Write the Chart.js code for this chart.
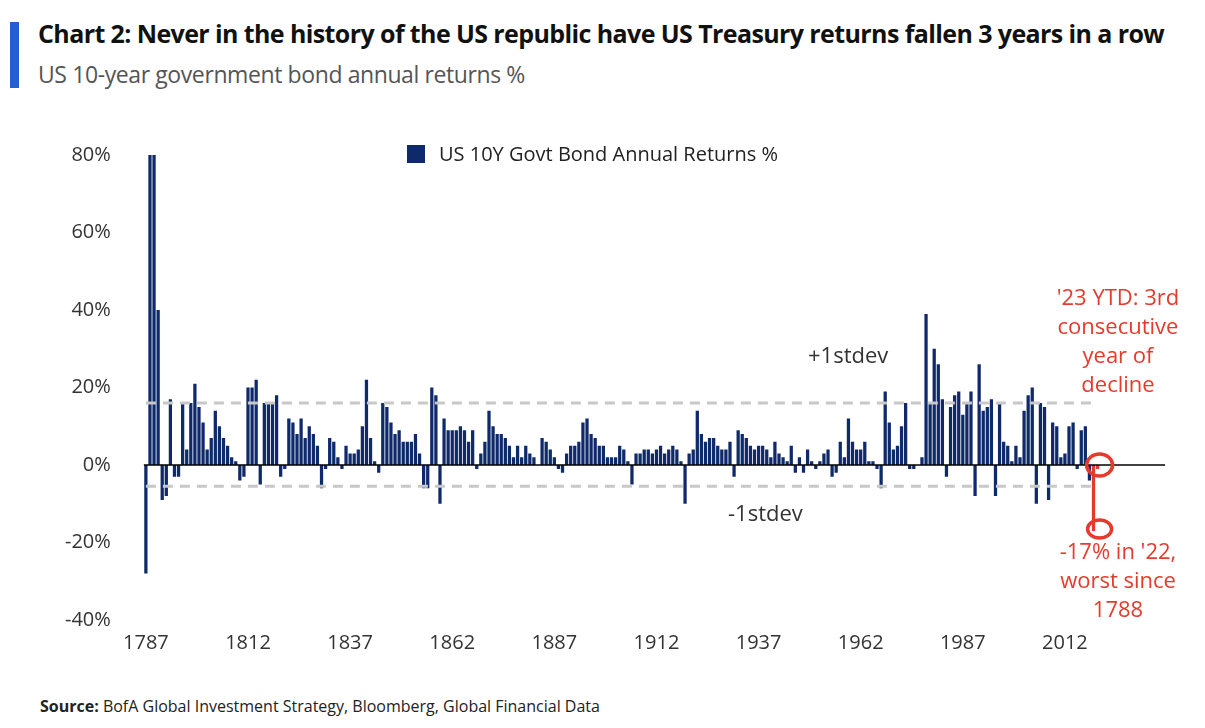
<!DOCTYPE html>
<html>
<head>
<meta charset="utf-8">
<script src="https://cdn.jsdelivr.net/npm/chart.js@4"></script>
<style>
  body { margin:0; width:1205px; height:728px; background:#fff; font-family:"Open Sans", sans-serif; position:relative; overflow:hidden; }
  .bar { position:absolute; left:10px; top:22px; width:9px; height:66px; background:#2a5bd7; }
  h1 { position:absolute; left:38px; top:16px; margin:0; font-size:25px; font-weight:bold; color:#111; letter-spacing:-0.6px; white-space:nowrap; }
  .sub { position:absolute; left:38px; top:58px; font-size:23px; color:#555; letter-spacing:-0.4px; }
  .src { position:absolute; left:40px; top:695px; font-size:16px; color:#222; }
  .note { position:absolute; font-size:22px; text-align:center; line-height:29px; }
  .leg { position:absolute; left:407px; top:140px; font-size:20px; color:#222; }
  .leg span { display:inline-block; width:18px; height:18px; background:#0f2a6b; margin-right:14px; vertical-align:-2px; }
  #wrap { position:absolute; left:40px; top:118px; }
</style>
</head>
<body>
<div class="bar"></div>
<h1>Chart 2: Never in the history of the US republic have US Treasury returns fallen 3 years in a row</h1>
<div class="sub">US 10-year government bond annual returns %</div>
<div id="wrap"><canvas id="graf" width="1140" height="540"></canvas></div>
<div class="leg"><span></span>US 10Y Govt Bond Annual Returns %</div>
<div class="note" style="left:808px;top:340px;color:#333;">+1stdev</div>
<div class="note" style="left:728px;top:498px;color:#333;">-1stdev</div>
<div class="note" style="left:1018px;top:282px;width:200px;color:#e53a2c;">'23 YTD: 3rd<br>consecutive<br>year of<br>decline</div>
<div class="note" style="left:1018px;top:536px;width:200px;color:#e53a2c;">-17% in '22,<br>worst since<br>1788</div>
<div class="src"><b>Source:</b> BofA Global Investment Strategy, Bloomberg, Global Financial Data</div>
<script>
const firstYear = 1787;
const lastYear = 2036;
const stdevUp = 16;
const stdevDown = -5.5;
// annual returns %, 1787 onward
const returns = [
  -28, 80, 80, 40, -9, -8, 17, -3, -3, 16, 4, 16, 21, 15, 11, 4, 7, 14, 10, 7, 5, 2, 1, -4, -3,
  20, 20, 22, -5, 16, 16, 16, 18, -3, -1, 12, 11, 8, 12, 7, 10, 8, 5, -6, -1, 7, 6, 2, -1, 5,
  3, 3, 4, 10, 22, 7, 1, -2, 16, 15, 11, 8, 9, 6, 6, 6, 8, 3, -6, -6, 20, 18, -10, 12, 9,
  9, 9, 10, 9, 6, 9, -1, 3, 6, 14, 10, 8, 8, 7, 5, 2, 5, 2, 5, 3, 2, 0, 7, 6, 4,
  2, -1, -2, 3, 5, 5, 6, 11, 12, 8, 7, 5, 5, 2, 2, 2, 5, 4, 1, -5, 3, 3, 4, 4, 3,
  4, 5, 3, 4, 5, 4, 1, -10, 3, 4, 14, 8, 6, 7, 7, 5, 4, 4, 6, -3, 9, 8, 7, 5, 4,
  5, 5, 4, 2, 6, 3, 2, 1, 5, -2, 2, -2, 4, 1, -1, 1, 3, 4, -3, -2, 6, 2, 12, 6, 4,
  4, 6, 1, 1, -1, -6, 19, 11, 4, 5, 10, 16, -1, -1, 0, 2, 39, 16, 30, 26, 17, -3, 15, 18, 19,
  13, 16, 19, -8, 26, 14, 15, 17, -8, 16, 6, 5, 1, 5, 2, 14, 18, 20, -10, 16, 15, -9, 11, 10, 2,
  3, 10, 11, -1, 9, 10, -4, -17, -1
];
const years = [];
for (let y = firstYear; y <= lastYear; y++) years.push(y);

const n = returns.length;
const barColors = returns.map((v, i) => i >= n - 2 ? "#e53a2c" : "#0f2a6b");
const upLine = years.map((y, i) => i < n ? stdevUp : null);
const downLine = years.map((y, i) => i < n ? stdevDown : null);

const marks = {
  id: "marks",
  afterDatasetsDraw(chart) {
    const { ctx, chartArea, scales } = chart;
    const x = scales.x, y = scales.y;
    ctx.save();
    ctx.strokeStyle = "#000"; ctx.lineWidth = 1.5;
    ctx.beginPath(); ctx.moveTo(chartArea.left, y.getPixelForValue(0));
    ctx.lineTo(chartArea.right, y.getPixelForValue(0)); ctx.stroke();
    ctx.strokeStyle = "#e53a2c"; ctx.lineWidth = 3.5;
    const cx = x.getPixelForValue(n - 1);
    [[0, 13, 11], [-16.5, 12, 9]].forEach(([v, rx, ry]) => {
      ctx.beginPath(); ctx.ellipse(cx + 2, y.getPixelForValue(v), rx, ry, 0, 0, Math.PI * 2); ctx.stroke();
    });
    ctx.restore();
  }
};

new Chart(document.getElementById("graf"), {
  type: "bar",
  data: {
    labels: years,
    datasets: [
      { label: "US 10Y Govt Bond Annual Returns %", data: returns, backgroundColor: barColors,
        barPercentage: 1, categoryPercentage: 0.8, order: 2 },
      { type: "line", label: "up", data: upLine, borderColor: "#c8c8c8", borderWidth: 3,
        borderDash: [10, 7], pointRadius: 0, order: 1 },
      { type: "line", label: "down", data: downLine, borderColor: "#c8c8c8", borderWidth: 3,
        borderDash: [10, 7], pointRadius: 0, order: 1 }
    ]
  },
  options: {
    responsive: false,
    animation: false,
    layout: { padding: { top: 8, right: 15 } },
    plugins: {
      legend: { display: false },
      tooltip: { enabled: false }
    },
    scales: {
      x: {
        grid: { display: false }, border: { display: false },
        ticks: {
          autoSkip: false, maxRotation: 0, color: "#333", font: { size: 20, family: "Open Sans" },
          callback: (v, i) => (i % 25 === 0 && years[i] <= 2012) ? years[i] : ""
        }
      },
      y: {
        min: -40, max: 80,
        grid: { display: false }, border: { display: false },
        ticks: { stepSize: 20, color: "#333", padding: 25, font: { size: 20, family: "Open Sans" }, callback: v => v + "%" }
      }
    }
  },
  plugins: [marks]
});
</script>
</body>
</html>
